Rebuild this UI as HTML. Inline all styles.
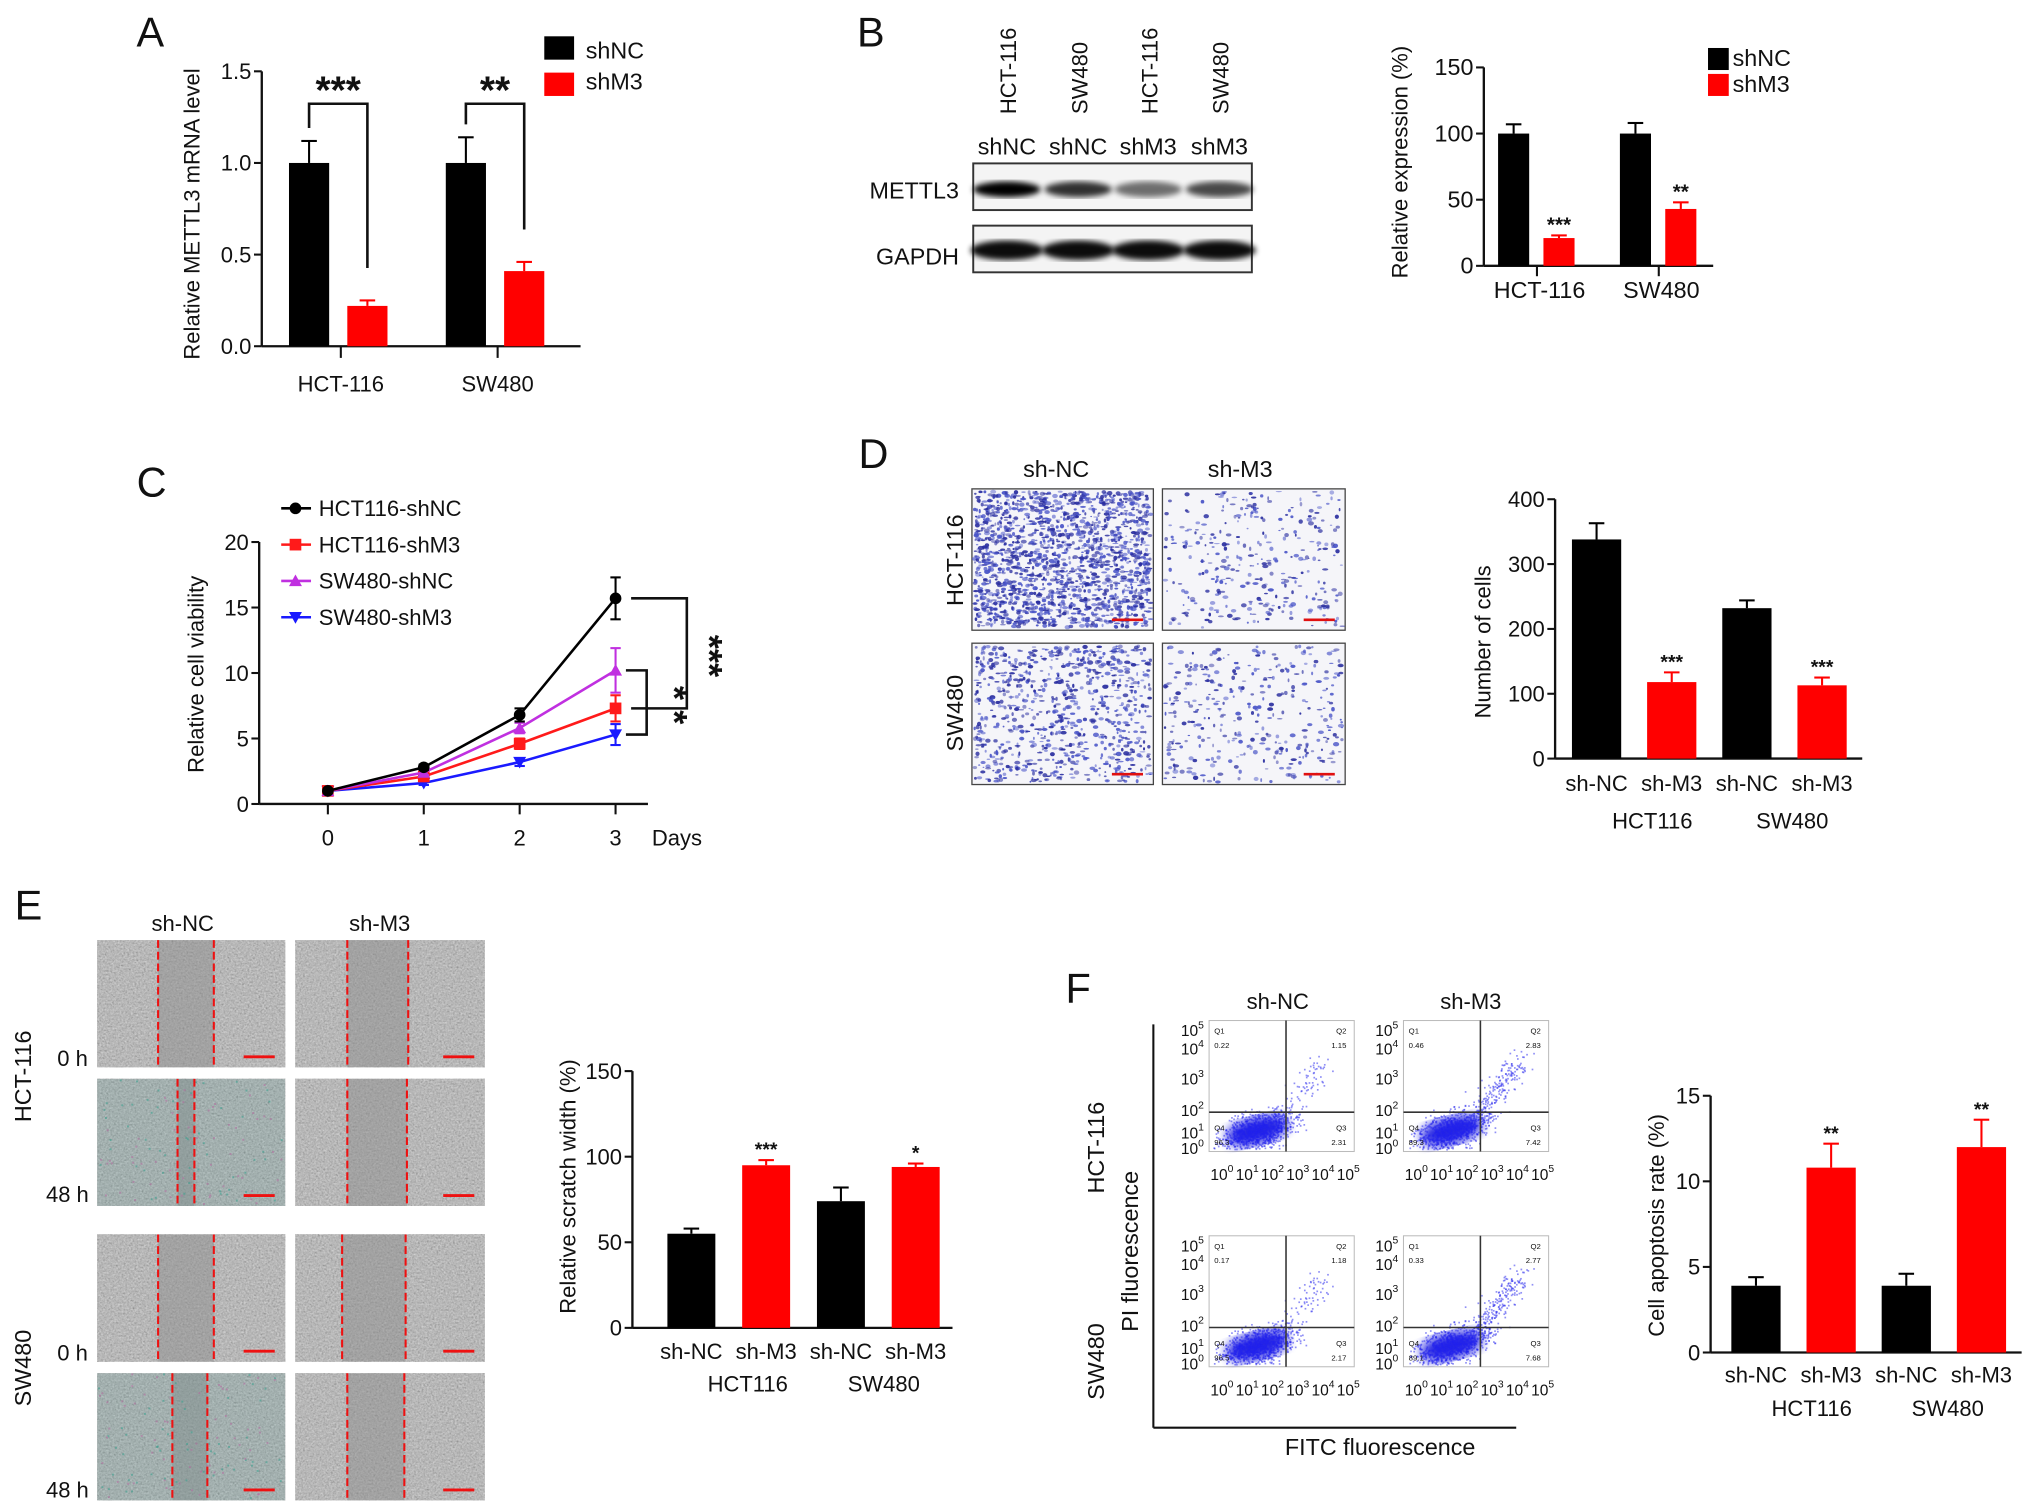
<!DOCTYPE html>
<html><head><meta charset="utf-8">
<style>
html,body{margin:0;padding:0;background:#fff;}
svg{display:block;}
text{font-family:"Liberation Sans Narrow","Liberation Sans",Arial,sans-serif;fill:#111;}
.w{font-family:"Liberation Sans",Arial,sans-serif;}
</style></head>
<body>
<svg id="fig" width="2032" height="1512" viewBox="0 0 1568 1166" preserveAspectRatio="none" xmlns="http://www.w3.org/2000/svg">
<defs>
<filter id="blur2"><feGaussianBlur stdDeviation="2.2"/></filter>
<filter id="blur4"><feGaussianBlur stdDeviation="4"/></filter>
<filter id="grain" x="0" y="0" width="100%" height="100%"><feTurbulence type="fractalNoise" baseFrequency="0.7" numOctaves="3" seed="4"/><feColorMatrix type="matrix" values="0.33 0.33 0.33 0 0  0.33 0.33 0.33 0 0  0.33 0.33 0.33 0 0  0 0 0 0 1"/></filter>
</defs>
<g id="root"></g>
</svg>
<script>
// ---------- Chart data ----------
const aCategories = ["HCT-116","SW480"];
const aShNC = [1.0, 1.0];
const aShNCErr = [0.12, 0.14];
const aShM3 = [0.22, 0.41];
const aShM3Err = [0.03, 0.05];
const aTicks = ["0.0","0.5","1.0","1.5"];

const bCategories = ["HCT-116","SW480"];
const bShNC = [100, 100];
const bShNCErr = [7, 8];
const bShM3 = [21, 43];
const bShM3Err = [2, 5];
const bTicks = ["0","50","100","150"];

const cDays = [0,1,2,3];
const cHctNC = [1.0, 2.8, 6.8, 15.7];
const cHctNCErr = [0.1, 0.2, 0.5, 1.6];
const cHctM3 = [1.0, 2.1, 4.6, 7.3];
const cHctM3Err = [0.1, 0.2, 0.4, 1.0];
const cSwNC = [1.0, 2.4, 5.8, 10.2];
const cSwNCErr = [0.1, 0.2, 0.4, 1.7];
const cSwM3 = [1.0, 1.6, 3.2, 5.3];
const cSwM3Err = [0.1, 0.15, 0.3, 0.8];
const cTicks = ["0","5","10","15","20"];

const dLabels = ["sh-NC","sh-M3","sh-NC","sh-M3"];
const dValues = [338, 118, 232, 113];
const dErr = [25, 15, 12, 12];
const dStars = ["","***","","***"];
const dTicks = ["0","100","200","300","400"];

const eLabels = ["sh-NC","sh-M3","sh-NC","sh-M3"];
const eValues = [55, 95, 74, 94];
const eErr = [3, 3, 8, 2];
const eStars = ["","***","","*"];
const eTicks = ["0","50","100","150"];

const fLabels = ["sh-NC","sh-M3","sh-NC","sh-M3"];
const fValues = [3.9, 10.8, 3.9, 12.0];
const fErr = [0.5, 1.4, 0.7, 1.6];
const fStars = ["","**","","**"];
const fTicks = ["0","5","10","15"];

// ---------- helpers ----------
const NS = "http://www.w3.org/2000/svg";
const root = document.getElementById("root");
function el(tag, attrs, parent, txt){
  const e = document.createElementNS(NS, tag);
  for (const k in attrs) e.setAttribute(k, attrs[k]);
  if (txt !== undefined) e.textContent = txt;
  (parent || root).appendChild(e);
  return e;
}
function grp(name, parent){
  const g = el("g", {}, parent);
  
  
  return g;
}
function txt(g, x, y, s, size, anchor, extra){
  return el("text", Object.assign({x:x, y:y, "font-size":size, "text-anchor":anchor||"middle"}, extra||{}), g, s);
}
function vtxt(g, x, y, s, size, extra){
  return el("text", Object.assign({x:0, y:0, "font-size":size, "text-anchor":"middle", transform:"translate("+x+","+y+") rotate(-90)"}, extra||{}), g, s);
}
function line(g, x1,y1,x2,y2, w, c){ return el("line",{x1:x1,y1:y1,x2:x2,y2:y2,stroke:c||"#111","stroke-width":w||1.5},g); }
let seed = 12345;
function rnd(){ seed = (seed*1103515245 + 12345) & 0x7fffffff; return seed/0x7fffffff; }
function gauss(){ let u=rnd()||1e-6, v=rnd(); return Math.sqrt(-2*Math.log(u))*Math.cos(2*Math.PI*v); }

function yAxis(g, ax, y0, yTop, vmax, ticks, size){
  const sc = v => y0 - (v/vmax)*(y0-yTop);
  line(g, ax, yTop, ax, y0, 1.8);
  ticks.forEach(t=>{
    const y = sc(parseFloat(t));
    line(g, ax-6, y, ax, y, 1.6);
    txt(g, ax-8, y+6, t, size, "end");
  });
  return sc;
}
function errBar(g, cx, yv, ye, c){
  line(g, cx, yv, cx, ye, 1.6, c);
  line(g, cx-6, ye, cx+6, ye, 1.6, c);
}

// ---------- Panel A ----------
(function(){
  const g = grp("panel-a");
  txt(g, 116, 36, "A", 32, "middle", {class:"w"});
  const ax=202, y0=267, yTop=55;
  const sc = yAxis(g, ax, y0, yTop, 1.5, aTicks, 17);
  line(g, ax, y0, 448, y0, 1.8);
  const bw=31;
  aCategories.forEach((c,i)=>{
    const gx = 223 + i*121;
    const b1 = el("rect",{x:gx,y:sc(aShNC[i]),width:bw,height:y0-sc(aShNC[i]),fill:"#000"},g);
    
    
    errBar(g, gx+bw/2, sc(aShNC[i]), sc(aShNC[i]+aShNCErr[i]), "#000");
    const b2 = el("rect",{x:gx+45,y:sc(aShM3[i]),width:bw,height:y0-sc(aShM3[i]),fill:"#ff0000"},g);
    
    
    errBar(g, gx+45+bw/2, sc(aShM3[i]), sc(aShM3[i]+aShM3Err[i]), "#ff0000");
    const cx = gx + 38;
    line(g, cx+2, y0, cx+2, y0+9, 1.6);
    txt(g, cx+2, 302, c, 17);
    const lx = gx+bw/2, rx = gx+45+bw/2;
    const ly = sc(aShNC[i]+aShNCErr[i]) - 10, ry = sc(aShM3[i]+aShM3Err[i]) - 25;
    el("polyline",{points:`${lx},${ly} ${lx},80 ${rx},80 ${rx},${ry}`,fill:"none",stroke:"#111","stroke-width":2},g);
    txt(g, (lx+rx)/2, 80, i==0?"***":"**", 30, "middle", {class:"w","font-weight":"bold"});
  });
  vtxt(g, 154, 165, "Relative METTL3 mRNA level", 17, {class:"w"});
  const lg = grp("legend-a", g);
  el("rect",{x:420,y:28,width:23,height:18,fill:"#000"},lg);
  txt(lg, 452, 45, "shNC", 18, "start");
  el("rect",{x:420,y:56,width:23,height:18,fill:"#ff0000"},lg);
  txt(lg, 452, 69, "shM3", 18, "start");
})();

// ---------- Panel B ----------
(function(){
  const g = grp("panel-b");
  txt(g, 672, 36, "B", 32, "middle", {class:"w"});
  const lanes=[777,832,886,941];
  const tops=["HCT-116","SW480","HCT-116","SW480"];
  const sh=["shNC","shNC","shM3","shM3"];
  lanes.forEach((x,i)=>{
    el("text",{x:0,y:0,"font-size":17,"text-anchor":"start",class:"w",transform:`translate(${x+7},88) rotate(-90)`},g,tops[i]);
    txt(g, x, 119, sh[i], 18);
  });
  const bl = grp("western-blot", g);
  el("rect",{x:751,y:126,width:215,height:36,fill:"#f4f4f4",stroke:"#333","stroke-width":1.5},bl);
  el("rect",{x:751,y:174,width:215,height:36,fill:"#f4f4f4",stroke:"#333","stroke-width":1.5},bl);
  const mInt=[1.0,0.8,0.55,0.7];
  lanes.forEach((x,i)=>{
    el("ellipse",{cx:x,cy:146,rx:26,ry:6,fill:"#000",opacity:mInt[i],filter:"url(#blur2)"},bl);
    el("ellipse",{cx:x,cy:193,rx:28,ry:7.5,fill:"#000",opacity:0.95,filter:"url(#blur2)"},bl);
  });
  txt(g, 740, 153, "METTL3", 18, "end");
  txt(g, 740, 204, "GAPDH", 18, "end");
  const ax=1145,y0=205,yTop=52;
  const sc = yAxis(g, ax, y0, yTop, 150, bTicks, 18);
  line(g, ax, y0, 1322, y0, 1.8);
  const bw=24;
  bCategories.forEach((c,i)=>{
    const gx=1156+i*94;
    const b1=el("rect",{x:gx,y:sc(bShNC[i]),width:bw,height:y0-sc(bShNC[i]),fill:"#000"},g);
    
    
    errBar(g, gx+bw/2, sc(bShNC[i]), sc(bShNC[i]+bShNCErr[i]), "#000");
    const b2=el("rect",{x:gx+35,y:sc(bShM3[i]),width:bw,height:y0-sc(bShM3[i]),fill:"#ff0000"},g);
    
    
    errBar(g, gx+35+bw/2, sc(bShM3[i]), sc(bShM3[i]+bShM3Err[i]), "#ff0000");
    txt(g, gx+35+bw/2, sc(bShM3[i]+bShM3Err[i])-3, i==0?"***":"**", 16, "middle", {"font-weight":"bold"});
    line(g, gx+30, y0, gx+30, y0+8, 1.6);
    txt(g, gx+32, 230, c, 18);
  });
  vtxt(g, 1086, 125, "Relative expression (%)", 17, {class:"w"});
  const lg = grp("legend-b", g);
  el("rect",{x:1318,y:37,width:16,height:17,fill:"#000"},lg);
  txt(lg, 1337, 51, "shNC", 18, "start");
  el("rect",{x:1318,y:57,width:16,height:17,fill:"#ff0000"},lg);
  txt(lg, 1337, 71, "shM3", 18, "start");
})();

// ---------- Panel C ----------
(function(){
  const g = grp("panel-c");
  txt(g, 117, 383, "C", 32, "middle", {class:"w"});
  const ax=200,y0=620,yTop=418;
  const sc = yAxis(g, ax, y0, yTop, 20, cTicks, 17);
  line(g, ax, y0, 500, y0, 1.8);
  const xs = d => 253 + d*74;
  cDays.forEach(d=>{ line(g, xs(d), y0, xs(d), y0+8, 1.6); txt(g, xs(d), 652, String(d), 17, "middle", {class:"w"}); });
  txt(g, 503, 652, "Days", 17, "start", {class:"w"});
  vtxt(g, 157, 520, "Relative cell viability", 17, {class:"w"});
  const series=[
    {n:"SW480-shM3",v:cSwM3,e:cSwM3Err,c:"#1a1aff",m:"down"},
    {n:"HCT116-shM3",v:cHctM3,e:cHctM3Err,c:"#ff1a1a",m:"sq"},
    {n:"SW480-shNC",v:cSwNC,e:cSwNCErr,c:"#c030e0",m:"up"},
    {n:"HCT116-shNC",v:cHctNC,e:cHctNCErr,c:"#000",m:"circ"}];
  function marker(gg,x,y,m,c){
    if(m=="circ") el("circle",{cx:x,cy:y,r:4.5,fill:c},gg);
    else if(m=="sq") el("rect",{x:x-4.5,y:y-4.5,width:9,height:9,fill:c},gg);
    else if(m=="up") el("polygon",{points:`${x},${y-5} ${x-5},${y+4} ${x+5},${y+4}`,fill:c},gg);
    else el("polygon",{points:`${x},${y+5} ${x-5},${y-4} ${x+5},${y-4}`,fill:c},gg);
  }
  series.forEach(s=>{
    const sg = grp("series-"+s.n.toLowerCase(), g);
    el("polyline",{points:cDays.map(d=>xs(d)+","+sc(s.v[d])).join(" "),fill:"none",stroke:s.c,"stroke-width":2},sg);
    cDays.forEach(d=>{
      const x=xs(d);
      line(sg,x,sc(s.v[d]-s.e[d]),x,sc(s.v[d]+s.e[d]),1.6,s.c);
      line(sg,x-4,sc(s.v[d]-s.e[d]),x+4,sc(s.v[d]-s.e[d]),1.6,s.c);
      line(sg,x-4,sc(s.v[d]+s.e[d]),x+4,sc(s.v[d]+s.e[d]),1.6,s.c);
      marker(sg,x,sc(s.v[d]),s.m,s.c);
    });
  });
  const lg = grp("legend-c", g);
  const order=[3,1,2,0];
  order.forEach((k,i)=>{
    const s=series[k], y=392+i*28;
    line(lg,217,y,240,y,2,s.c);
    marker(lg,228,y,s.m,s.c);
    txt(lg,246,y+6,s.n,17,"start",{class:"w"});
  });
  const x3=xs(3);
  const yA=sc(cHctNC[3]), yM=sc(cSwNC[3]), yB=sc(cSwM3[3]);
  const yMid=sc(cHctM3[3]);
  el("polyline",{points:`${x3+12},${yA} ${x3+55},${yA} ${x3+55},${yMid} ${x3+12},${yMid}`,fill:"none",stroke:"#111","stroke-width":2},g);
  el("polyline",{points:`${x3+8},${yM} ${x3+24},${yM} ${x3+24},${yB} ${x3+8},${yB}`,fill:"none",stroke:"#111","stroke-width":2},g);
  el("text",{x:0,y:0,"font-size":28,"text-anchor":"middle","font-weight":"bold",class:"w",transform:`translate(${x3+63},${(yA+yMid)/2+2}) rotate(90)`},g,"***");
  el("text",{x:0,y:0,"font-size":28,"text-anchor":"middle","font-weight":"bold",class:"w",transform:`translate(${x3+36},${(yM+yB)/2+2}) rotate(90)`},g,"* *");
})();

function micro(g, x, y, w, h, n, name){
  const mg = grp(name, g);
  el("rect",{x:x,y:y,width:w,height:h,fill:"#f5f5f9",stroke:"#444","stroke-width":1},mg);
  for(let i=0;i<n;i++){
    const px=x+2+rnd()*(w-4), py=y+2+rnd()*(h-4);
    el("ellipse",{cx:px.toFixed(1),cy:py.toFixed(1),rx:(0.7+rnd()*1.7).toFixed(1),ry:(0.5+rnd()*1.2).toFixed(1),fill:rnd()<0.5?"#2b2fa0":"#4a55c8",opacity:(0.45+rnd()*0.5).toFixed(2)},mg);
  }
  line(mg, x+w-32, y+h-8, x+w-8, y+h-8, 2, "#e01010");
}

// ---------- Panel D ----------
(function(){
  const g = grp("panel-d");
  txt(g, 674, 361, "D", 32, "middle", {class:"w"});
  txt(g, 815, 368, "sh-NC", 18, "middle", {class:"w"});
  txt(g, 957, 368, "sh-M3", 18, "middle", {class:"w"});
  micro(g,750,377,140,109,1700,"image-hct116-shnc");
  micro(g,897,377,141,109,330,"image-hct116-shm3");
  micro(g,750,496,140,109,800,"image-sw480-shnc");
  micro(g,897,496,141,109,360,"image-sw480-shm3");
  vtxt(g, 743, 432, "HCT-116", 18, {class:"w"});
  vtxt(g, 743, 550, "SW480", 18, {class:"w"});
  const ax=1200,y0=585,yTop=385;
  const sc=yAxis(g,ax,y0,yTop,400,dTicks,17);
  line(g,ax,y0,1437,y0,1.8);
  dValues.forEach((v,i)=>{
    const x=1213+i*58, c=i%2?"#ff0000":"#000";
    const b=el("rect",{x:x,y:sc(v),width:38,height:y0-sc(v),fill:c},g);
    
    
    errBar(g,x+19,sc(v),sc(v+dErr[i]),c);
    if(dStars[i]) txt(g,x+19,sc(v+dErr[i])-3,dStars[i],15,"middle",{"font-weight":"bold"});
    txt(g,x+19,610,dLabels[i],17,"middle",{class:"w"});
  });
  txt(g,1275,639,"HCT116",17,"middle",{class:"w"});
  txt(g,1383,639,"SW480",17,"middle",{class:"w"});
  vtxt(g,1150,495,"Number of cells",17,{class:"w"});
})();

// ---------- Panel E ----------
(function(){
  const g = grp("panel-e");
  txt(g, 22, 709, "E", 32, "middle", {class:"w"});
  txt(g, 141, 718, "sh-NC", 17, "middle", {class:"w"});
  txt(g, 293, 718, "sh-M3", 17, "middle", {class:"w"});
  const rowsY=[725,832,952,1059];
  const cols=[75,228];
  const dash=[[[122,165],[268,315]],[[137,150],[268,314]],[[122,165],[264,313]],[[133,160],[268,312]]];
  const tint=[[false,false],[true,false],[false,false],[true,false]];
  rowsY.forEach((ry,r)=>{
    cols.forEach((cx,c)=>{
      const w=c?146:145, h=98;
      const ig=grp("scratch-image-r"+r+"-c"+c,g);
      el("rect",{x:cx,y:ry,width:w,height:h,fill:"#b0b0b0"},ig);
      el("rect",{x:cx,y:ry,width:w,height:h,filter:"url(#grain)",opacity:0.7},ig);
      const d=dash[r][c];
      el("rect",{x:d[0],y:ry,width:d[1]-d[0],height:h,fill:"#8a8a8a",opacity:0.45},ig);
      if(tint[r][c]){
        el("rect",{x:cx,y:ry,width:w,height:h,fill:"#4a8f88",opacity:0.18},ig);
        for(let i=0;i<120;i++) el("rect",{x:(cx+rnd()*(w-2)).toFixed(1),y:(ry+rnd()*(h-2)).toFixed(1),width:1.5,height:1.5,fill:rnd()<0.5?"#b070a0":"#40a090",opacity:0.6},ig);
      }
      d.forEach(xx=>el("line",{x1:xx,y1:ry,x2:xx,y2:ry+h,stroke:"#ee1111","stroke-width":1.6,"stroke-dasharray":"6,3"},ig));
      line(ig,cx+w-32,ry+h-8,cx+w-8,ry+h-8,2.2,"#ee1111");
    });
  });
  txt(g,56,822,"0 h",17,"middle",{class:"w"});
  txt(g,52,927,"48 h",17,"middle",{class:"w"});
  txt(g,56,1049,"0 h",17,"middle",{class:"w"});
  txt(g,52,1155,"48 h",17,"middle",{class:"w"});
  vtxt(g,24,830,"HCT-116",18,{class:"w"});
  vtxt(g,24,1055,"SW480",18,{class:"w"});
  const ax=488,y0=1024,yTop=826;
  const sc=yAxis(g,ax,y0,yTop,150,eTicks,17);
  line(g,ax,y0,735,y0,1.8);
  eValues.forEach((v,i)=>{
    const x=515+i*57.7, c=i%2?"#ff0000":"#000";
    const b=el("rect",{x:x,y:sc(v),width:37,height:y0-sc(v),fill:c},g);
    
    
    errBar(g,x+18.5,sc(v),sc(v+eErr[i]),c);
    if(eStars[i]) txt(g,x+18.5,sc(v+eErr[i])-3,eStars[i],15,"middle",{"font-weight":"bold"});
    txt(g,x+18.5,1048,eLabels[i],17,"middle",{class:"w"});
  });
  txt(g,577,1073,"HCT116",17,"middle",{class:"w"});
  txt(g,682,1073,"SW480",17,"middle",{class:"w"});
  vtxt(g,444,915,"Relative scratch width (%)",17,{class:"w"});
})();

// ---------- Panel F ----------
(function(){
  const g = grp("panel-f");
  txt(g, 832, 773, "F", 32, "middle", {class:"w"});
  txt(g, 986, 778, "sh-NC", 17, "middle", {class:"w"});
  txt(g, 1135, 778, "sh-M3", 17, "middle", {class:"w"});
  const plots=[
    {x:933,y:787,q:["0.22","1.15","2.31","96.3"],tail:0.08},
    {x:1083,y:787,q:["0.46","2.83","7.42","89.3"],tail:0.2},
    {x:933,y:953,q:["0.17","1.18","2.17","96.5"],tail:0.08},
    {x:1083,y:953,q:["0.33","2.77","7.68","89.1"],tail:0.2}];
  plots.forEach((p,k)=>{
    const pg=grp("flow-plot-"+k,g);
    const w=112,h=101;
    const qx=p.x+w*0.53, qy=p.y+h*0.7;
    el("rect",{x:p.x,y:p.y,width:w,height:h,fill:"#fff",stroke:"#bbb","stroke-width":0.8},pg);
    const ccx=p.x+w*0.33, ccy=p.y+h*0.84;
    el("ellipse",{cx:ccx,cy:ccy,rx:w*0.22,ry:h*0.1,fill:"#1010e0",opacity:0.9,filter:"url(#blur4)",transform:`rotate(-14 ${ccx} ${ccy})`},pg);
    for(let i=0;i<1100;i++){
      let px,py;
      if(rnd()<p.tail){ const t=rnd(); px=p.x+w*(0.45+0.35*t)+gauss()*5; py=p.y+h*(0.8-0.5*t)+gauss()*5; }
      else { px=ccx+gauss()*w*0.12; py=ccy+gauss()*h*0.065-(px-ccx)*0.25; }
      if(px<p.x+2||px>p.x+w-2||py<p.y+2||py>p.y+h-2) continue;
      el("rect",{x:px.toFixed(1),y:py.toFixed(1),width:1.3,height:1.3,fill:"#2222ee",opacity:0.5},pg);
    }
    line(pg,qx,p.y,qx,p.y+h,1.2,"#333");
    line(pg,p.x,qy,p.x+w,qy,1.2,"#333");
    txt(pg,p.x+4,p.y+10,"Q1",6,"start");txt(pg,p.x+4,p.y+21,p.q[0],6,"start");
    txt(pg,p.x+w-6,p.y+10,"Q2",6,"end");txt(pg,p.x+w-6,p.y+21,p.q[1],6,"end");
    txt(pg,p.x+w-6,p.y+h-16,"Q3",6,"end");txt(pg,p.x+w-6,p.y+h-5,p.q[2],6,"end");
    txt(pg,p.x+4,p.y+h-16,"Q4",6,"start");txt(pg,p.x+4,p.y+h-5,p.q[3],6,"start");
    const yl=[[0,p.y+h-2],[1,p.y+h-14],[2,p.y+h*0.69],[3,p.y+h*0.45],[4,p.y+h*0.22],[5,p.y+8]];
    yl.forEach(a=>{ const t=el("text",{x:p.x-4,y:a[1]+4,"font-size":12,"text-anchor":"end"},pg,"10"); el("tspan",{dy:-6,"font-size":8},t,String(a[0])); });
    for(let i=0;i<6;i++){ const t=el("text",{x:p.x+1+i*19.5,y:p.y+h+22,"font-size":12,"text-anchor":"start"},pg,"10"); el("tspan",{dy:-6,"font-size":8},t,String(i)); }
  });
  line(g,890,790,890,1101,1.6);
  line(g,890,1101,1170,1101,1.6);
  vtxt(g,878,965,"PI fluorescence",18,{class:"w"});
  txt(g,1065,1122,"FITC fluorescence",18,"middle",{class:"w"});
  vtxt(g,852,885,"HCT-116",18,{class:"w"});
  vtxt(g,852,1050,"SW480",18,{class:"w"});
  const ax=1320,y0=1043,yTop=845;
  const sc=yAxis(g,ax,y0,yTop,15,fTicks,17);
  line(g,ax,y0,1560,y0,1.8);
  fValues.forEach((v,i)=>{
    const x=1336+i*58, c=i%2?"#ff0000":"#000";
    const b=el("rect",{x:x,y:sc(v),width:38,height:y0-sc(v),fill:c},g);
    
    
    errBar(g,x+19,sc(v),sc(v+fErr[i]),c);
    if(fStars[i]) txt(g,x+19,sc(v+fErr[i])-3,fStars[i],15,"middle",{"font-weight":"bold"});
    txt(g,x+19,1066,fLabels[i],17,"middle",{class:"w"});
  });
  txt(g,1398,1092,"HCT116",17,"middle",{class:"w"});
  txt(g,1503,1092,"SW480",17,"middle",{class:"w"});
  vtxt(g,1284,945,"Cell apoptosis rate (%)",17,{class:"w"});
})();
</script>
</body></html>
